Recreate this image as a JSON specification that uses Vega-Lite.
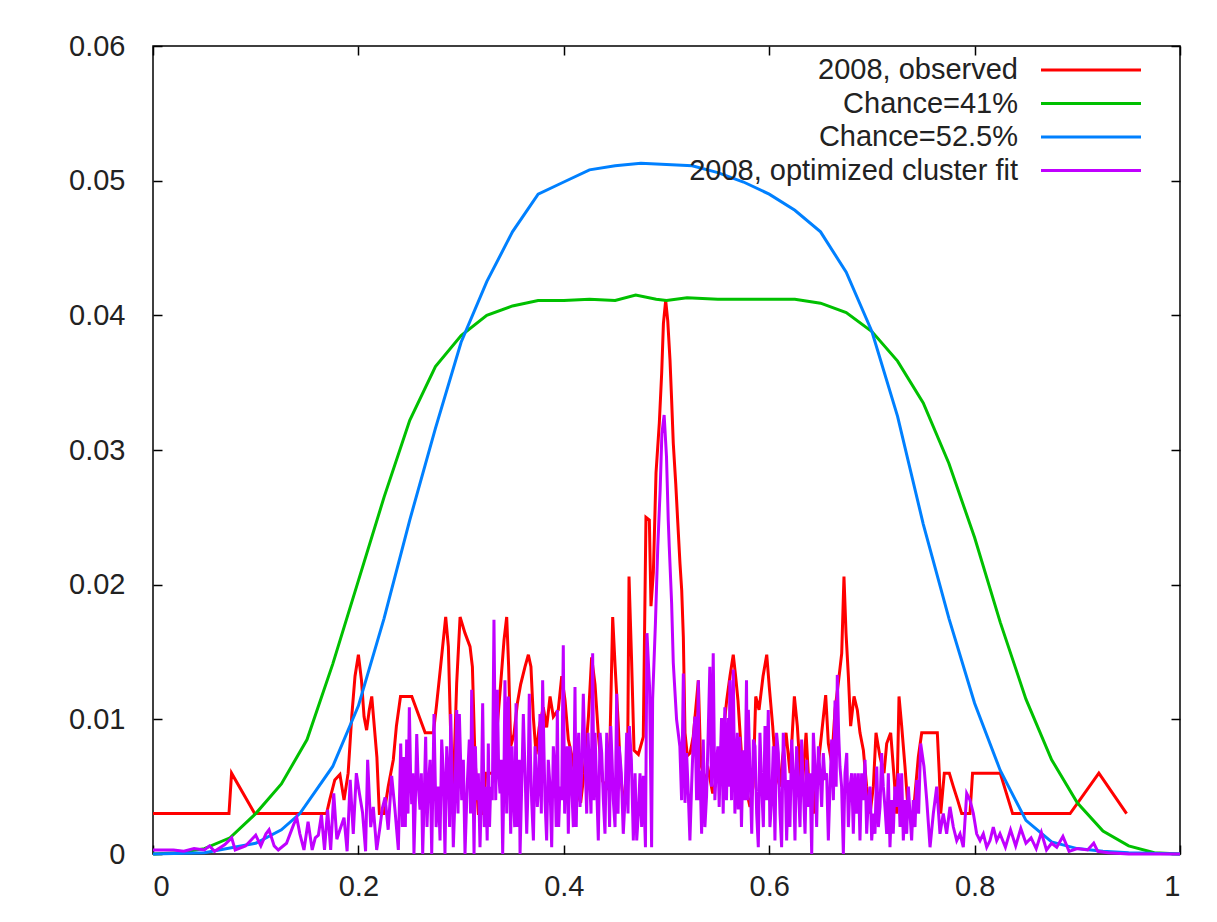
{
  "$schema": "https://vega.github.io/schema/vega-lite/v6.json",
  "width": 1027,
  "height": 808,
  "autosize": {"type": "none"},
  "padding": {"left": 153, "top": 46, "right": 37, "bottom": 68},
  "background": "white",
  "config": {
    "view": {"stroke": "#000", "strokeWidth": 1.5},
    "font": "Liberation Sans",
    "axis": {"grid": false, "domain": false, "tickColor": "#000", "tickWidth": 1.5, "tickSize": -9, "labelFont": "Liberation Sans", "labelFontSize": 29, "labelColor": "#222"},
    "legend": {"orient": "none", "legendX": 921.5, "legendY": 7.5, "symbolType": "M-3.333,0H3.333", "symbolSize": 900, "symbolStrokeWidth": 3, "labelAlign": "right", "labelOffset": -89.5, "labelFont": "Liberation Sans", "labelFontSize": 29, "labelColor": "#222", "labelLimit": 600, "rowPadding": 1.5, "padding": 0}
  },
  "datasets": {
    "obs": [{"x":0,"y":0.003},{"x":0.074,"y":0.003},{"x":0.0765,"y":0.006},{"x":0.099,"y":0.003},{"x":0.169,"y":0.003},{"x":0.172,"y":0.004},{"x":0.177,"y":0.0055},{"x":0.182,"y":0.0059},{"x":0.186,"y":0.004},{"x":0.19,"y":0.006},{"x":0.1935,"y":0.0102},{"x":0.1967,"y":0.0132},{"x":0.2,"y":0.0148},{"x":0.203,"y":0.0129},{"x":0.2055,"y":0.0102},{"x":0.208,"y":0.0092},{"x":0.2106,"y":0.0107},{"x":0.213,"y":0.0117},{"x":0.215,"y":0.0099},{"x":0.218,"y":0.0072},{"x":0.2204,"y":0.003},{"x":0.225,"y":0.003},{"x":0.229,"y":0.005},{"x":0.234,"y":0.007},{"x":0.237,"y":0.0095},{"x":0.241,"y":0.0117},{"x":0.252,"y":0.0117},{"x":0.265,"y":0.009},{"x":0.273,"y":0.009},{"x":0.276,"y":0.011},{"x":0.28,"y":0.0139},{"x":0.285,"y":0.0176},{"x":0.2876,"y":0.0154},{"x":0.29,"y":0.0085},{"x":0.2925,"y":0.005},{"x":0.2957,"y":0.0127},{"x":0.299,"y":0.0176},{"x":0.3038,"y":0.0164},{"x":0.3087,"y":0.0154},{"x":0.311,"y":0.0139},{"x":0.3135,"y":0.0071},{"x":0.3168,"y":0.003},{"x":0.3217,"y":0.003},{"x":0.324,"y":0.006},{"x":0.3314,"y":0.006},{"x":0.3346,"y":0.0089},{"x":0.3385,"y":0.0126},{"x":0.3418,"y":0.0159},{"x":0.3444,"y":0.0176},{"x":0.3463,"y":0.0139},{"x":0.3483,"y":0.008},{"x":0.3515,"y":0.0089},{"x":0.3548,"y":0.0112},{"x":0.358,"y":0.0126},{"x":0.3622,"y":0.0139},{"x":0.3655,"y":0.0148},{"x":0.368,"y":0.0139},{"x":0.3703,"y":0.0102},{"x":0.373,"y":0.0074},{"x":0.376,"y":0.0094},{"x":0.38,"y":0.0109},{"x":0.3833,"y":0.0094},{"x":0.3866,"y":0.0117},{"x":0.3898,"y":0.0102},{"x":0.3946,"y":0.0107},{"x":0.398,"y":0.0132},{"x":0.4012,"y":0.0114},{"x":0.4044,"y":0.0085},{"x":0.4087,"y":0.007},{"x":0.4126,"y":0.0048},{"x":0.4164,"y":0.0038},{"x":0.4197,"y":0.006},{"x":0.424,"y":0.0102},{"x":0.4271,"y":0.0146},{"x":0.4304,"y":0.0126},{"x":0.4336,"y":0.0089},{"x":0.4378,"y":0.0054},{"x":0.4417,"y":0.005},{"x":0.445,"y":0.0085},{"x":0.4476,"y":0.0176},{"x":0.45,"y":0.0139},{"x":0.453,"y":0.0097},{"x":0.4554,"y":0.0057},{"x":0.4586,"y":0.0037},{"x":0.462,"y":0.0055},{"x":0.4635,"y":0.0206},{"x":0.466,"y":0.0144},{"x":0.4684,"y":0.0077},{"x":0.4726,"y":0.0074},{"x":0.4774,"y":0.0087},{"x":0.48,"y":0.025},{"x":0.4833,"y":0.0248},{"x":0.4849,"y":0.0184},{"x":0.4872,"y":0.0209},{"x":0.4898,"y":0.0283},{"x":0.493,"y":0.032},{"x":0.4953,"y":0.0357},{"x":0.497,"y":0.0394},{"x":0.4992,"y":0.0411},{"x":0.5012,"y":0.0396},{"x":0.5034,"y":0.0367},{"x":0.505,"y":0.0337},{"x":0.5066,"y":0.0305},{"x":0.509,"y":0.0275},{"x":0.511,"y":0.0246},{"x":0.5131,"y":0.0216},{"x":0.5148,"y":0.0196},{"x":0.5164,"y":0.0161},{"x":0.518,"y":0.009},{"x":0.5203,"y":0.0073},{"x":0.523,"y":0.0075},{"x":0.526,"y":0.0087},{"x":0.531,"y":0.0129},{"x":0.5333,"y":0.0067},{"x":0.5375,"y":0.0055},{"x":0.5408,"y":0.0062},{"x":0.545,"y":0.0045},{"x":0.5495,"y":0.0058},{"x":0.5538,"y":0.0077},{"x":0.556,"y":0.0095},{"x":0.5586,"y":0.0114},{"x":0.5618,"y":0.0132},{"x":0.565,"y":0.0148},{"x":0.5673,"y":0.0132},{"x":0.5696,"y":0.0114},{"x":0.5712,"y":0.0095},{"x":0.5738,"y":0.0065},{"x":0.577,"y":0.005},{"x":0.5813,"y":0.0035},{"x":0.5843,"y":0.005},{"x":0.5869,"y":0.0117},{"x":0.5901,"y":0.0107},{"x":0.594,"y":0.0132},{"x":0.5976,"y":0.0148},{"x":0.6001,"y":0.0124},{"x":0.6034,"y":0.0095},{"x":0.6066,"y":0.006},{"x":0.6105,"y":0.005},{"x":0.6131,"y":0.0072},{"x":0.6164,"y":0.009},{"x":0.6203,"y":0.006},{"x":0.6245,"y":0.0117},{"x":0.6274,"y":0.0095},{"x":0.6316,"y":0.0043},{"x":0.6359,"y":0.009},{"x":0.6391,"y":0.0045},{"x":0.643,"y":0.003},{"x":0.6469,"y":0.006},{"x":0.6511,"y":0.009},{"x":0.655,"y":0.0118},{"x":0.6576,"y":0.0082},{"x":0.6608,"y":0.0068},{"x":0.6641,"y":0.0107},{"x":0.6673,"y":0.0127},{"x":0.6706,"y":0.0149},{"x":0.6728,"y":0.0206},{"x":0.6748,"y":0.0164},{"x":0.6771,"y":0.0132},{"x":0.6793,"y":0.0095},{"x":0.6826,"y":0.0117},{"x":0.6858,"y":0.0107},{"x":0.6884,"y":0.009},{"x":0.6917,"y":0.0077},{"x":0.6949,"y":0.005},{"x":0.6982,"y":0.003},{"x":0.7014,"y":0.005},{"x":0.704,"y":0.009},{"x":0.7079,"y":0.0072},{"x":0.7118,"y":0.006},{"x":0.7144,"y":0.0082},{"x":0.7183,"y":0.009},{"x":0.7215,"y":0.0058},{"x":0.7241,"y":0.003},{"x":0.7264,"y":0.0117},{"x":0.729,"y":0.0095},{"x":0.7322,"y":0.0065},{"x":0.7355,"y":0.003},{"x":0.7403,"y":0.003},{"x":0.7452,"y":0.0072},{"x":0.7485,"y":0.009},{"x":0.7637,"y":0.009},{"x":0.7656,"y":0.006},{"x":0.767,"y":0.003},{"x":0.7705,"y":0.006},{"x":0.7754,"y":0.006},{"x":0.7793,"y":0.005},{"x":0.7835,"y":0.004},{"x":0.7874,"y":0.003},{"x":0.7955,"y":0.003},{"x":0.798,"y":0.006},{"x":0.825,"y":0.006},{"x":0.837,"y":0.003},{"x":0.893,"y":0.003},{"x":0.921,"y":0.006},{"x":0.948,"y":0.003}],
    "g41": [{"x":0,"y":0},{"x":0.025,"y":0.0001},{"x":0.05,"y":0.0004},{"x":0.075,"y":0.0012},{"x":0.1,"y":0.003},{"x":0.125,"y":0.0052},{"x":0.15,"y":0.0085},{"x":0.175,"y":0.0141},{"x":0.2,"y":0.0203},{"x":0.225,"y":0.0265},{"x":0.25,"y":0.0322},{"x":0.275,"y":0.0362},{"x":0.3,"y":0.0385},{"x":0.325,"y":0.04},{"x":0.35,"y":0.0407},{"x":0.375,"y":0.0411},{"x":0.4,"y":0.0411},{"x":0.425,"y":0.0412},{"x":0.45,"y":0.0411},{"x":0.47,"y":0.0415},{"x":0.49,"y":0.0412},{"x":0.5,"y":0.0411},{"x":0.52,"y":0.0413},{"x":0.55,"y":0.0412},{"x":0.6,"y":0.0412},{"x":0.625,"y":0.0412},{"x":0.65,"y":0.0409},{"x":0.675,"y":0.0402},{"x":0.7,"y":0.0388},{"x":0.725,"y":0.0366},{"x":0.75,"y":0.0335},{"x":0.775,"y":0.029},{"x":0.8,"y":0.0235},{"x":0.825,"y":0.0172},{"x":0.85,"y":0.0115},{"x":0.875,"y":0.007},{"x":0.9,"y":0.0038},{"x":0.925,"y":0.0017},{"x":0.95,"y":0.0006},{"x":0.975,"y":0.0001},{"x":1,"y":0}],
    "b525": [{"x":0,"y":0},{"x":0.05,"y":0.0001},{"x":0.1,"y":0.0008},{"x":0.125,"y":0.0018},{"x":0.143,"y":0.003},{"x":0.175,"y":0.0065},{"x":0.2,"y":0.011},{"x":0.225,"y":0.0175},{"x":0.25,"y":0.0248},{"x":0.275,"y":0.0316},{"x":0.3,"y":0.038},{"x":0.325,"y":0.0425},{"x":0.35,"y":0.0462},{"x":0.375,"y":0.049},{"x":0.4,"y":0.0499},{"x":0.425,"y":0.0508},{"x":0.45,"y":0.0511},{"x":0.475,"y":0.0513},{"x":0.5,"y":0.0512},{"x":0.525,"y":0.0511},{"x":0.55,"y":0.0506},{"x":0.575,"y":0.0499},{"x":0.6,"y":0.049},{"x":0.625,"y":0.0478},{"x":0.65,"y":0.0462},{"x":0.675,"y":0.0432},{"x":0.7,"y":0.0388},{"x":0.725,"y":0.0325},{"x":0.75,"y":0.0245},{"x":0.775,"y":0.0175},{"x":0.8,"y":0.0112},{"x":0.825,"y":0.0062},{"x":0.85,"y":0.0025},{"x":0.875,"y":0.0009},{"x":0.9,"y":0.0004},{"x":0.925,"y":0.0002},{"x":0.95,"y":0.0001},{"x":1,"y":0}],
    "fit": [{"x":0,"y":0.0003},{"x":0.02,"y":0.0003},{"x":0.03,"y":0.0002},{"x":0.04,"y":0.0004},{"x":0.05,"y":0.0003},{"x":0.055,"y":0.0006},{"x":0.06,"y":0.0002},{"x":0.07,"y":0.0007},{"x":0.0766,"y":0.0012},{"x":0.08,"y":0.0003},{"x":0.09,"y":0.0006},{"x":0.1,"y":0.0014},{"x":0.105,"y":0.0006},{"x":0.11,"y":0.0015},{"x":0.113,"y":0.0018},{"x":0.118,"y":0.0006},{"x":0.122,"y":0.0003},{"x":0.13,"y":0.0008},{"x":0.137,"y":0.0022},{"x":0.14,"y":0.0027},{"x":0.143,"y":0.0015},{"x":0.147,"y":0.0003},{"x":0.151,"y":0.0024},{"x":0.155,"y":0.0003},{"x":0.158,"y":0.0012},{"x":0.161,"y":0.0014},{"x":0.164,"y":0.0029},{"x":0.167,"y":0.0003},{"x":0.17,"y":0.0033},{"x":0.173,"y":0.0003},{"x":0.176,"y":0.0045},{"x":0.179,"y":0.0011},{"x":0.182,"y":0.0018},{"x":0.186,"y":0.0027},{"x":0.189,"y":0.0002},{"x":0.192,"y":0.0055},{"x":0.195,"y":0.0015},{"x":0.198,"y":0.006},{"x":0.201,"y":0.0045},{"x":0.204,"y":0.0031},{"x":0.207,"y":0.0002},{"x":0.209,"y":0.007},{"x":0.212,"y":0.002},{"x":0.2145,"y":0.0035},{"x":0.2178,"y":0.0003},{"x":0.221,"y":0.002},{"x":0.2233,"y":0.0034},{"x":0.226,"y":0.0042},{"x":0.229,"y":0.0018},{"x":0.2324,"y":0.0058},{"x":0.2356,"y":0.0033},{"x":0.2389,"y":0.0003},{"x":0.2412,"y":0.0082},{"x":0.2428,"y":0.002},{"x":0.2444,"y":0.0072},{"x":0.2457,"y":0.002},{"x":0.247,"y":0.0085},{"x":0.2483,"y":0.003},{"x":0.2496,"y":0.0109},{"x":0.2508,"y":0.006},{"x":0.2519,"y":0.0037},{"x":0.253,"y":0.006},{"x":0.2541,"y":0},{"x":0.2555,"y":0.004},{"x":0.2568,"y":0.0089},{"x":0.2584,"y":0.005},{"x":0.26,"y":0.0033},{"x":0.2613,"y":0.006},{"x":0.2626,"y":0},{"x":0.264,"y":0.004},{"x":0.2655,"y":0.0087},{"x":0.2668,"y":0.002},{"x":0.2681,"y":0.005},{"x":0.2698,"y":0.007},{"x":0.2714,"y":0},{"x":0.2725,"y":0.005},{"x":0.2736,"y":0.0104},{"x":0.2757,"y":0.002},{"x":0.2778,"y":0.005},{"x":0.2795,"y":0.001},{"x":0.2811,"y":0.0085},{"x":0.2827,"y":0.006},{"x":0.2843,"y":0},{"x":0.286,"y":0.008},{"x":0.2876,"y":0.0055},{"x":0.2888,"y":0.002},{"x":0.2899,"y":0.0104},{"x":0.2912,"y":0.006},{"x":0.2924,"y":0.0005},{"x":0.294,"y":0.004},{"x":0.2957,"y":0.0107},{"x":0.297,"y":0.003},{"x":0.2983,"y":0.0104},{"x":0.2995,"y":0.007},{"x":0.3006,"y":0.004},{"x":0.3022,"y":0.007},{"x":0.3038,"y":0},{"x":0.3059,"y":0.005},{"x":0.308,"y":0.0085},{"x":0.3092,"y":0.003},{"x":0.3103,"y":0.0122},{"x":0.3115,"y":0.006},{"x":0.3126,"y":0},{"x":0.3139,"y":0.008},{"x":0.3152,"y":0.004},{"x":0.3168,"y":0.006},{"x":0.3184,"y":0.0005},{"x":0.3197,"y":0.004},{"x":0.321,"y":0.0112},{"x":0.3226,"y":0.002},{"x":0.3242,"y":0.005},{"x":0.3254,"y":0.001},{"x":0.3265,"y":0.0082},{"x":0.3277,"y":0.002},{"x":0.3288,"y":0.005},{"x":0.3304,"y":0.004},{"x":0.332,"y":0.0174},{"x":0.3337,"y":0.004},{"x":0.3353,"y":0.0122},{"x":0.3366,"y":0.006},{"x":0.3379,"y":0.0045},{"x":0.3392,"y":0.007},{"x":0.3405,"y":0},{"x":0.3416,"y":0.005},{"x":0.3427,"y":0.0129},{"x":0.3444,"y":0.003},{"x":0.346,"y":0.0117},{"x":0.3472,"y":0.006},{"x":0.3483,"y":0.0015},{"x":0.3496,"y":0.008},{"x":0.3508,"y":0.0045},{"x":0.3522,"y":0.002},{"x":0.3535,"y":0.0112},{"x":0.3546,"y":0.002},{"x":0.3557,"y":0.005},{"x":0.3566,"y":0.007},{"x":0.3574,"y":0},{"x":0.359,"y":0.005},{"x":0.3606,"y":0.0104},{"x":0.3623,"y":0.006},{"x":0.3639,"y":0.0015},{"x":0.3652,"y":0.005},{"x":0.3664,"y":0.0119},{"x":0.3676,"y":0.007},{"x":0.3687,"y":0.004},{"x":0.3704,"y":0.001},{"x":0.372,"y":0.008},{"x":0.3731,"y":0.006},{"x":0.3742,"y":0.0035},{"x":0.3755,"y":0.005},{"x":0.3768,"y":0.0104},{"x":0.3781,"y":0.003},{"x":0.3794,"y":0.0129},{"x":0.3806,"y":0.008},{"x":0.3817,"y":0.004},{"x":0.3833,"y":0.001},{"x":0.3849,"y":0.007},{"x":0.3866,"y":0.005},{"x":0.3882,"y":0.0005},{"x":0.3898,"y":0.008},{"x":0.3914,"y":0.006},{"x":0.3926,"y":0.002},{"x":0.3937,"y":0.0107},{"x":0.395,"y":0.002},{"x":0.3963,"y":0.005},{"x":0.3979,"y":0.004},{"x":0.3995,"y":0.0155},{"x":0.4008,"y":0.003},{"x":0.4021,"y":0.0065},{"x":0.4033,"y":0.008},{"x":0.4044,"y":0.0015},{"x":0.406,"y":0.008},{"x":0.4077,"y":0.005},{"x":0.4093,"y":0.002},{"x":0.4109,"y":0.0124},{"x":0.4121,"y":0.002},{"x":0.4132,"y":0.0065},{"x":0.4145,"y":0.009},{"x":0.4158,"y":0.0035},{"x":0.4174,"y":0.006},{"x":0.419,"y":0.0119},{"x":0.4207,"y":0.007},{"x":0.4223,"y":0.003},{"x":0.4236,"y":0.009},{"x":0.4248,"y":0.0065},{"x":0.4265,"y":0.003},{"x":0.4281,"y":0.0149},{"x":0.4293,"y":0.004},{"x":0.4304,"y":0.009},{"x":0.432,"y":0.005},{"x":0.4336,"y":0.001},{"x":0.4353,"y":0.009},{"x":0.4369,"y":0.0075},{"x":0.4385,"y":0.004},{"x":0.4401,"y":0.0015},{"x":0.4418,"y":0.009},{"x":0.4434,"y":0.0065},{"x":0.4446,"y":0.002},{"x":0.4457,"y":0.0095},{"x":0.447,"y":0.007},{"x":0.4482,"y":0.004},{"x":0.4499,"y":0.002},{"x":0.4515,"y":0.0119},{"x":0.4528,"y":0.003},{"x":0.454,"y":0.008},{"x":0.456,"y":0.006},{"x":0.4579,"y":0.0015},{"x":0.4596,"y":0.004},{"x":0.4612,"y":0.009},{"x":0.4625,"y":0.003},{"x":0.4638,"y":0.0095},{"x":0.4658,"y":0.007},{"x":0.4677,"y":0.001},{"x":0.4694,"y":0.006},{"x":0.471,"y":0.001},{"x":0.4726,"y":0.003},{"x":0.4742,"y":0.006},{"x":0.4758,"y":0.002},{"x":0.4774,"y":0.0058},{"x":0.4795,"y":0.0005},{"x":0.481,"y":0.0164},{"x":0.4835,"y":0.0124},{"x":0.4855,"y":0.0005},{"x":0.4865,"y":0.0115},{"x":0.4892,"y":0.0171},{"x":0.4915,"y":0.0228},{"x":0.4938,"y":0.027},{"x":0.4955,"y":0.0312},{"x":0.4977,"y":0.0326},{"x":0.5,"y":0.0295},{"x":0.5017,"y":0.0248},{"x":0.5027,"y":0.0228},{"x":0.505,"y":0.0186},{"x":0.5066,"y":0.0142},{"x":0.5098,"y":0.01},{"x":0.513,"y":0.008},{"x":0.5147,"y":0.004},{"x":0.5164,"y":0.0134},{"x":0.518,"y":0.0038},{"x":0.5196,"y":0.0075},{"x":0.5212,"y":0.0045},{"x":0.5228,"y":0.001},{"x":0.5245,"y":0.0052},{"x":0.5261,"y":0.0085},{"x":0.5277,"y":0.0102},{"x":0.5293,"y":0.004},{"x":0.531,"y":0.0129},{"x":0.5318,"y":0.004},{"x":0.5326,"y":0.0062},{"x":0.5342,"y":0.0015},{"x":0.5358,"y":0.0085},{"x":0.5374,"y":0.002},{"x":0.539,"y":0.0043},{"x":0.5406,"y":0.009},{"x":0.5422,"y":0.0139},{"x":0.5438,"y":0.005},{"x":0.5455,"y":0.0149},{"x":0.5471,"y":0.004},{"x":0.5487,"y":0.0067},{"x":0.55,"y":0.008},{"x":0.5513,"y":0.0035},{"x":0.5524,"y":0.007},{"x":0.5536,"y":0.0101},{"x":0.5552,"y":0.003},{"x":0.5568,"y":0.0109},{"x":0.5584,"y":0.004},{"x":0.5601,"y":0.0101},{"x":0.5609,"y":0.005},{"x":0.5617,"y":0.0129},{"x":0.5633,"y":0.004},{"x":0.565,"y":0.0137},{"x":0.5666,"y":0.003},{"x":0.5682,"y":0.0077},{"x":0.569,"y":0.009},{"x":0.5698,"y":0.0033},{"x":0.5706,"y":0.006},{"x":0.5714,"y":0.0087},{"x":0.573,"y":0.002},{"x":0.5747,"y":0.0077},{"x":0.5763,"y":0.004},{"x":0.5779,"y":0.0129},{"x":0.5788,"y":0.004},{"x":0.5797,"y":0.0107},{"x":0.5813,"y":0.006},{"x":0.583,"y":0.0015},{"x":0.5846,"y":0.0085},{"x":0.5862,"y":0.008},{"x":0.5878,"y":0.003},{"x":0.5894,"y":0.0005},{"x":0.591,"y":0.009},{"x":0.5927,"y":0.005},{"x":0.5943,"y":0.002},{"x":0.5959,"y":0.0095},{"x":0.5975,"y":0.004},{"x":0.5991,"y":0.0107},{"x":0.6007,"y":0.002},{"x":0.6024,"y":0.004},{"x":0.604,"y":0.008},{"x":0.6056,"y":0.001},{"x":0.6072,"y":0.009},{"x":0.6089,"y":0.0075},{"x":0.6105,"y":0.003},{"x":0.6121,"y":0.0005},{"x":0.6137,"y":0.009},{"x":0.6154,"y":0.0065},{"x":0.617,"y":0.001},{"x":0.6186,"y":0.0055},{"x":0.6202,"y":0.002},{"x":0.6219,"y":0.0085},{"x":0.6235,"y":0.006},{"x":0.6251,"y":0.001},{"x":0.6267,"y":0.008},{"x":0.6284,"y":0.005},{"x":0.63,"y":0.002},{"x":0.6316,"y":0.0085},{"x":0.6332,"y":0.005},{"x":0.6349,"y":0.0015},{"x":0.6365,"y":0.007},{"x":0.6381,"y":0.0035},{"x":0.6397,"y":0.006},{"x":0.6414,"y":0},{"x":0.643,"y":0.009},{"x":0.6446,"y":0.0065},{"x":0.6462,"y":0.002},{"x":0.6479,"y":0.008},{"x":0.6495,"y":0.006},{"x":0.6511,"y":0.0035},{"x":0.6527,"y":0.0075},{"x":0.6543,"y":0.0055},{"x":0.6559,"y":0.006},{"x":0.6576,"y":0.001},{"x":0.6592,"y":0.005},{"x":0.6608,"y":0.0085},{"x":0.6625,"y":0.004},{"x":0.6641,"y":0.0114},{"x":0.6652,"y":0.005},{"x":0.6663,"y":0.0133},{"x":0.6676,"y":0.009},{"x":0.6689,"y":0.0065},{"x":0.6705,"y":0.005},{"x":0.6722,"y":0},{"x":0.6738,"y":0.006},{"x":0.6755,"y":0.0075},{"x":0.6771,"y":0.002},{"x":0.6787,"y":0.005},{"x":0.6803,"y":0.006},{"x":0.6819,"y":0.0015},{"x":0.6835,"y":0.006},{"x":0.6852,"y":0.003},{"x":0.6868,"y":0.006},{"x":0.6884,"y":0.001},{"x":0.69,"y":0.006},{"x":0.6917,"y":0.004},{"x":0.6933,"y":0.007},{"x":0.6949,"y":0.0015},{"x":0.6965,"y":0.004},{"x":0.6982,"y":0.005},{"x":0.6998,"y":0.001},{"x":0.7014,"y":0.003},{"x":0.703,"y":0.0015},{"x":0.7047,"y":0.0065},{"x":0.7063,"y":0.002},{"x":0.7079,"y":0.0035},{"x":0.7095,"y":0.0075},{"x":0.7111,"y":0.005},{"x":0.7127,"y":0.0035},{"x":0.7144,"y":0.0015},{"x":0.716,"y":0.006},{"x":0.7176,"y":0.0005},{"x":0.7192,"y":0.004},{"x":0.7208,"y":0.0015},{"x":0.7224,"y":0.005},{"x":0.7241,"y":0.0035},{"x":0.7257,"y":0.006},{"x":0.7274,"y":0.002},{"x":0.729,"y":0.006},{"x":0.7306,"y":0.001},{"x":0.7322,"y":0.004},{"x":0.7339,"y":0.0015},{"x":0.7355,"y":0.005},{"x":0.7371,"y":0.003},{"x":0.7387,"y":0.001},{"x":0.7403,"y":0.004},{"x":0.742,"y":0.002},{"x":0.7436,"y":0.0055},{"x":0.7455,"y":0.003},{"x":0.7475,"y":0.0082},{"x":0.7507,"y":0.0065},{"x":0.7534,"y":0.004},{"x":0.7566,"y":0.0005},{"x":0.7598,"y":0.003},{"x":0.7631,"y":0.005},{"x":0.7663,"y":0.0015},{"x":0.7695,"y":0.003},{"x":0.7728,"y":0.0015},{"x":0.776,"y":0.0035},{"x":0.7793,"y":0.002},{"x":0.7826,"y":0.001},{"x":0.7858,"y":0.0015},{"x":0.789,"y":0.0005},{"x":0.7923,"y":0.0045},{"x":0.7955,"y":0.004},{"x":0.7988,"y":0.003},{"x":0.802,"y":0.0015},{"x":0.8053,"y":0.001},{"x":0.8085,"y":0.0015},{"x":0.8118,"y":0.0005},{"x":0.815,"y":0.001},{"x":0.8182,"y":0.002},{"x":0.8215,"y":0.001},{"x":0.8247,"y":0.0015},{"x":0.83,"y":0.0005},{"x":0.835,"y":0.0018},{"x":0.84,"y":0.0006},{"x":0.845,"y":0.0019},{"x":0.85,"y":0.0008},{"x":0.855,"y":0.0012},{"x":0.86,"y":0.0004},{"x":0.865,"y":0.0016},{"x":0.87,"y":0.0003},{"x":0.875,"y":0.0008},{"x":0.88,"y":0.0005},{"x":0.886,"y":0.0013},{"x":0.892,"y":0.0002},{"x":0.9,"y":0.0004},{"x":0.91,"y":0.0003},{"x":0.916,"y":0.0008},{"x":0.92,"y":0.0002},{"x":0.93,"y":0.0001},{"x":0.95,"y":0},{"x":1,"y":0}]
  },
  "layer": [
    {
      "data": {"name": "obs"},
      "mark": {"type": "line", "strokeWidth": 3},
      "encoding": {
        "x": {"field": "x", "type": "quantitative", "scale": {"domain": [0, 1], "nice": false, "zero": false}, "axis": {"orient": "bottom", "title": null, "values": [0, 0.2, 0.4, 0.6, 0.8, 1], "format": "~g", "labelPadding": 27}},
        "y": {"field": "y", "type": "quantitative", "scale": {"domain": [0, 0.06], "nice": false}, "axis": {"orient": "left", "title": null, "values": [0, 0.01, 0.02, 0.03, 0.04, 0.05, 0.06], "format": "~g", "labelPadding": 37}},
        "color": {"datum": "2008, observed", "type": "nominal", "scale": {"domain": ["2008, observed", "Chance=41%", "Chance=52.5%", "2008, optimized cluster fit"], "range": ["#ff0000", "#00c000", "#0080ff", "#c000ff"]}, "legend": {"title": null}}
      }
    },
    {
      "data": {"name": "g41"},
      "mark": {"type": "line", "strokeWidth": 3},
      "encoding": {
        "x": {"field": "x", "type": "quantitative", "axis": {"orient": "top", "title": null, "labels": false, "values": [0, 0.2, 0.4, 0.6, 0.8, 1]}},
        "y": {"field": "y", "type": "quantitative", "axis": {"orient": "right", "title": null, "labels": false, "values": [0, 0.01, 0.02, 0.03, 0.04, 0.05, 0.06]}},
        "color": {"datum": "Chance=41%", "type": "nominal"}
      }
    },
    {
      "data": {"name": "b525"},
      "mark": {"type": "line", "strokeWidth": 3},
      "encoding": {
        "x": {"field": "x", "type": "quantitative", "axis": null},
        "y": {"field": "y", "type": "quantitative", "axis": null},
        "color": {"datum": "Chance=52.5%", "type": "nominal"}
      }
    },
    {
      "data": {"name": "fit"},
      "mark": {"type": "line", "strokeWidth": 3},
      "encoding": {
        "x": {"field": "x", "type": "quantitative", "axis": null},
        "y": {"field": "y", "type": "quantitative", "axis": null},
        "color": {"datum": "2008, optimized cluster fit", "type": "nominal"}
      }
    }
  ],
  "resolve": {"axis": {"x": "independent", "y": "independent"}}
}
